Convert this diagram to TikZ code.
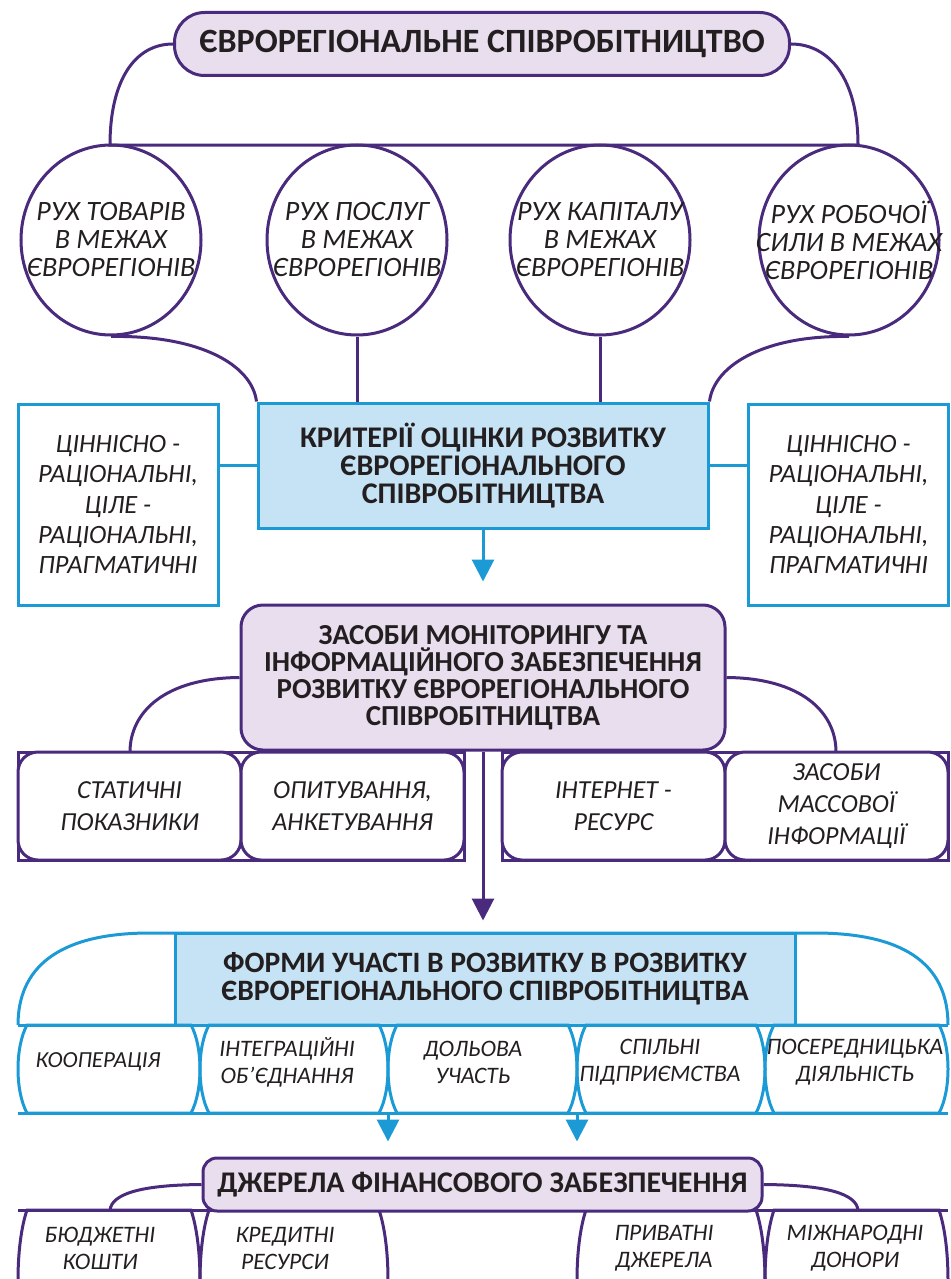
\documentclass[tikz,border=0pt]{standalone}
\usepackage{fontspec}
\setmainfont{Carlito}
\usepackage{xcolor}
\usetikzlibrary{shapes.geometric,arrows.meta}
\definecolor{grape}{HTML}{4A2A7C}
\definecolor{lilac}{HTML}{E8DEEE}
\definecolor{sky}{HTML}{1C9AD6}
\definecolor{skyfill}{HTML}{C5E3F4}
\definecolor{ink}{HTML}{231F20}
% cell with bowed sides: x1, x2, top, bottom, colour
\newcommand{\bowcell}[5]{%
  \draw[#5] ({#1+9},#3) -- ({#2-9},#3)
    .. controls ({#2+3},{#3+(#4-#3)/4}) and ({#2+3},{#4-(#4-#3)/4}) .. ({#2-9},#4)
    -- ({#1+9},#4)
    .. controls ({#1-3},{#4-(#4-#3)/4}) and ({#1-3},{#3+(#4-#3)/4}) .. ({#1+9},#3) -- cycle;}

\begin{document}
\begin{tikzpicture}[x=0.5pt, y=-0.5pt, line width=1.5pt,
  head/.style={draw=grape, fill=lilac, text=ink, align=center, inner sep=0pt,
               font=\bfseries\fontsize{15}{14}\selectfont},
  crit/.style={draw=sky, fill=skyfill, text=ink, align=center, inner sep=0pt,
               font=\bfseries\fontsize{15}{14}\selectfont},
  oval/.style={draw=grape, ellipse, minimum width=90pt, minimum height=95pt, inner sep=0pt},
  ovaltxt/.style={text=ink, align=center, inner sep=0pt, font=\itshape\fontsize{14}{14}\selectfont},
  side/.style={draw=sky, fill=white, text=ink, minimum width=100pt, minimum height=100.5pt,
               align=center, inner sep=0pt, font=\itshape\fontsize{13.2}{15.2}\selectfont},
  tool/.style={draw=grape, fill=white, text=ink, rounded corners=10pt, minimum width=111.5pt,
               minimum height=54pt, align=center, inner sep=0pt, font=\itshape\fontsize{13}{16}\selectfont},
  item/.style={text=ink, align=center, inner sep=0pt, font=\itshape\fontsize{11.8}{13.5}\selectfont},
  >={Triangle[width=11pt,length=11pt]}]
  \useasboundingbox (0,0) rectangle (951,1279);
  \clip (0,0) rectangle (951,1279);
  % row 1: the cooperation and its four flows
  \node[head, rounded corners=15pt, minimum width=307.5pt, minimum height=31.5pt,
        font=\bfseries\fontsize{17}{17}\selectfont] (euro) at (482,44) {ЄВРОРЕГІОНАЛЬНЕ СПІВРОБІТНИЦТВО};
  \coordinate (hl) at (110,145);
  \coordinate (hr) at (858,145);
  \draw[grape] (euro.west) .. controls (135,44) and (110,80) .. (hl) -- (hr)
    .. controls (858,80) and (830,44) .. (euro.east);
  \node[oval] (goods)  at (111,240) {};
  \node[oval] (serv)   at (357,240) {};
  \node[oval] (capit)  at (600,240) {};
  \node[oval] (labour) at (849,240) {};
  \node[ovaltxt] (goods-t)  at (goods)  {РУХ ТОВАРІВ\\В МЕЖАХ\\ЄВРОРЕГІОНІВ};
  \node[ovaltxt] (serv-t)   at (serv)   {РУХ ПОСЛУГ\\В МЕЖАХ\\ЄВРОРЕГІОНІВ};
  \node[ovaltxt] (capit-t)  at (capit)  {РУХ КАПІТАЛУ\\В МЕЖАХ\\ЄВРОРЕГІОНІВ};
  \node[ovaltxt] (labour-t) at (labour) {РУХ РОБОЧОЇ\\СИЛИ В МЕЖАХ\\ЄВРОРЕГІОНІВ};
  % row 2: criteria
  \node[crit, minimum width=225pt, minimum height=62.5pt] (crit) at (483,465.5)
    {КРИТЕРІЇ ОЦІНКИ РОЗВИТКУ\\ЄВРОРЕГІОНАЛЬНОГО\\СПІВРОБІТНИЦТВА};
  \node[side] (valL) at (118,504.5) {ЦІННІСНО -\\РАЦІОНАЛЬНІ,\\ЦІЛЕ -\\РАЦІОНАЛЬНІ,\\ПРАГМАТИЧНІ};
  \node[side] (valR) at (848.5,504.5) {ЦІННІСНО -\\РАЦІОНАЛЬНІ,\\ЦІЛЕ -\\РАЦІОНАЛЬНІ,\\ПРАГМАТИЧНІ};
  \draw[grape] (goods.south) .. controls (200,335) and (252,365) .. (crit.north west);
  \draw[grape] (serv.south) -- (serv.south |- crit.north);
  \draw[grape] (capit.south) -- (capit.south |- crit.north);
  \draw[grape] (labour.south) .. controls (765,335) and (714,365) .. (crit.north east);
  \draw[sky] (crit.west) -- (crit.west -| valL.east);
  \draw[sky] (crit.east) -- (crit.east -| valR.west);
  % row 3: monitoring
  \node[head, rounded corners=11pt, minimum width=242pt, minimum height=72.5pt,
        font=\bfseries\fontsize{14.5}{13.5}\selectfont] (mon) at (483,677.5)
    {ЗАСОБИ МОНІТОРИНГУ ТА\\ІНФОРМАЦІЙНОГО ЗАБЕЗПЕЧЕННЯ\\РОЗВИТКУ ЄВРОРЕГІОНАЛЬНОГО\\СПІВРОБІТНИЦТВА};
  \draw[->, sky, shorten >=11pt] (crit.south) -- (mon.north);
  \coordinate (ml) at (130,752);
  \coordinate (mr) at (836,752);
  \draw[grape] (mon.west) .. controls (165,678) and (130,712) .. (ml);
  \draw[grape] (mon.east) .. controls (801,678) and (836,712) .. (mr);
  \draw[grape] (18,752) rectangle (464,860);
  \draw[grape] (502,752) rectangle (948,860);
  \node[tool] (stat)  at (129.5,806) {СТАТИЧНІ\\ПОКАЗНИКИ};
  \node[tool] (poll)  at (352.5,806) {ОПИТУВАННЯ,\\АНКЕТУВАННЯ};
  \node[tool] (web)   at (613.5,806) {ІНТЕРНЕТ -\\РЕСУРС};
  \node[tool] (media) at (836.5,806) {ЗАСОБИ\\МАССОВОЇ\\ІНФОРМАЦІЇ};
  % row 4: forms of participation
  \draw[sky] (18,1025) .. controls (18,970) and (55,933) .. (150,933) -- (815,933)
    .. controls (912,933) and (948,970) .. (948,1025);
  \node[crit, minimum width=310pt, minimum height=46pt, font=\bfseries\fontsize{14.8}{14}\selectfont] (forms) at (485,979)
    {ФОРМИ УЧАСТІ В РОЗВИТКУ В РОЗВИТКУ\\ЄВРОРЕГІОНАЛЬНОГО СПІВРОБІТНИЦТВА};
  \draw[->, grape, shorten >=5.5pt] (mon.south) -- (mon.south |- forms.north);
  \draw[sky] (18,1025) -- (948,1025) (18,1113) -- (948,1113);
  \foreach \a/\b in {18/200, 200/388, 388/577, 577/765, 765/948}
    \bowcell{\a}{\b}{1025}{1113}{sky};
  \node[item, font=\itshape\fontsize{11.5}{13.5}\selectfont] (coop) at (98,1062) {КООПЕРАЦІЯ};
  \node[item] (integ) at (287,1062) {ІНТЕГРАЦІЙНІ\\ОБ’ЄДНАННЯ};
  \node[item] (share) at (473,1062) {ДОЛЬОВА\\УЧАСТЬ};
  \node[item] (joint) at (660,1062) {СПІЛЬНІ\\ПІДПРИЄМСТВА};
  \node[item] (agent) at (855,1062) {ПОСЕРЕДНИЦЬКА\\ДІЯЛЬНІСТЬ};
  % row 5: sources of finance
  \draw[grape] (18,1210) -- (948,1210);
  \foreach \a/\b in {18/200, 200/388, 577/765, 765/948}
    \bowcell{\a}{\b}{1210}{1350}{grape};
  \node[head, rounded corners=7pt, minimum width=279.5pt, minimum height=26.5pt,
        font=\bfseries\fontsize{15}{14}\selectfont] (fin) at (482.5,1184.5) {ДЖЕРЕЛА ФІНАНСОВОГО ЗАБЕЗПЕЧЕННЯ};
  \coordinate (f1) at (388,1113);
  \coordinate (f2) at (577,1113);
  \draw[->, sky, shorten >=7.5pt] (f1) -- (f1 |- fin.north);
  \draw[->, sky, shorten >=7.5pt] (f2) -- (f2 |- fin.north);
  \coordinate (bl) at (110,1210);
  \coordinate (br) at (858,1210);
  \draw[grape] (fin.west) .. controls (140,1185) and (112,1194) .. (bl);
  \draw[grape] (fin.east) .. controls (828,1185) and (856,1194) .. (br);
  \node[item] (budget)  at (100,1248) {БЮДЖЕТНІ\\КОШТИ};
  \node[item] (credit)  at (285,1248) {КРЕДИТНІ\\РЕСУРСИ};
  \node[item] (private) at (664,1248) {ПРИВАТНІ\\ДЖЕРЕЛА};
  \node[item] (donors)  at (855,1248) {МІЖНАРОДНІ\\ДОНОРИ};
\end{tikzpicture}
\end{document}
